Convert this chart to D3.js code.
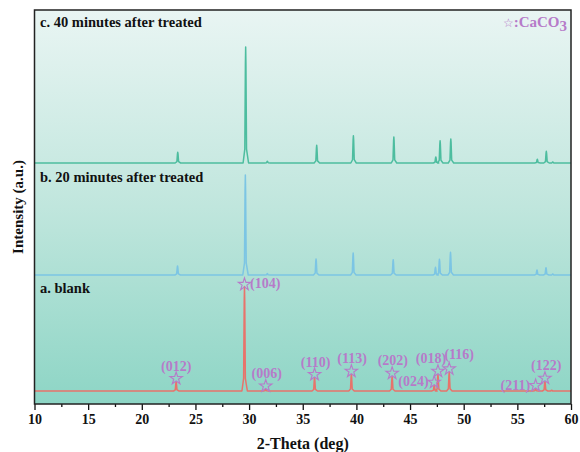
<!DOCTYPE html>
<html>
<head>
<meta charset="utf-8">
<script src="https://cdn.jsdelivr.net/npm/d3@7"></script>
<style>
  body { margin: 0; background: #fff; }
  text { font-family: "Liberation Serif", "Times New Roman", serif; }
</style>
</head>
<body>
<div id="chart"></div>
<script>
// peak lists [2-theta, height above baseline]
const peaksA = [[23.2, 90], [29.57, 1046], [31.55, 15], [36.1, 130], [39.53, 163], [43.33, 143],
  [47.25, 53], [47.6, 163], [48.65, 186], [56.7, 20], [57.57, 93], [58.2, 8]];
const peaksB = [[23.33, 90], [29.65, 1000], [31.7, 14], [36.24, 160], [39.7, 220], [43.43, 153],
  [47.37, 77], [47.74, 157], [48.77, 227], [56.83, 50], [57.67, 73], [58.3, 10]];
const peaksC = [[23.35, 107], [29.68, 1160], [31.7, 17], [36.3, 177], [39.72, 273], [43.49, 260],
  [47.4, 60], [47.8, 223], [48.8, 240], [56.86, 37], [57.7, 117], [58.3, 10]];
const offsets = [130, 1290, 2410];
const seriesNames = ['a. blank', 'b. 20 minutes after treated', 'c. 40 minutes after treated'];
const seriesColors = ['#e8736b', '#7cc5e4', '#4dbd9f'];

// CaCO3 reflections marked on the blank pattern
const hklLabels = ['(012)', '(104)', '(006)', '(110)', '(113)', '(202)', '(024)', '(018)', '(116)', '(211)', '(122)'];
const hklPeak = [0, 1, 2, 3, 4, 5, 6, 7, 8, 9, 10];

const xTicks = [10, 15, 20, 25, 30, 35, 40, 45, 50, 55, 60];

const width = 580, height = 452;
const margin = { top: 10, right: 9, bottom: 48, left: 34.5 };

const svg = d3.select('#chart').append('svg')
  .attr('width', width)
  .attr('height', height);

const x = d3.scaleLinear().domain([10, 60]).range([margin.left, width - margin.right]);
const y = d3.scaleLinear().domain([0, 3940]).range([height - margin.bottom, margin.top]);

// background gradient
const grad = svg.append('defs').append('linearGradient')
  .attr('id', 'bg').attr('x1', 0).attr('y1', 0).attr('x2', 0).attr('y2', 1);
grad.append('stop').attr('offset', '0%').attr('stop-color', '#e9f5f3');
grad.append('stop').attr('offset', '50%').attr('stop-color', '#c0e6dd');
grad.append('stop').attr('offset', '100%').attr('stop-color', '#8dd5c5');

svg.append('rect')
  .attr('x', margin.left).attr('y', margin.top)
  .attr('width', x(60) - x(10)).attr('height', y(0) - y(3940))
  .style('fill', 'url(#bg)');

// build a profile from the peak list
function profile(peaks) {
  const pts = [[10, 0]];
  peaks.forEach(([p, h]) => {
    pts.push([p - 0.24, 0], [p - 0.08, h * 0.12], [p - 0.025, h * 0.85], [p, h],
      [p + 0.025, h * 0.85], [p + 0.08, h * 0.12], [p + 0.27, 0]);
  });
  pts.push([60, 0]);
  return pts;
}

const line = d3.line().x(d => x(d[0])).y(d => y(d[1]));
[peaksA, peaksB, peaksC].forEach((peaks, i) => {
  svg.append('path')
    .datum(profile(peaks).map(d => [d[0], d[1] + offsets[i]]))
    .attr('d', line)
    .style('fill', 'none')
    .style('stroke', seriesColors[i])
    .style('stroke-width', 1.5)
    .style('stroke-linejoin', 'round');
});

// series labels
const labelY = [293, 182, 27];
seriesNames.forEach((name, i) => {
  svg.append('text')
    .attr('x', 40).attr('y', labelY[i])
    .style('font-size', '14.5px').style('font-weight', 'bold')
    .style('fill', '#111')
    .text(name);
});

// stars and hkl labels
const purple = '#b67bc9';
const star = d3.symbol().type(d3.symbolStar).size(48);
// [dx, dy, anchor] of each label relative to its star
const place = [[0, -7, 'middle'], [5.5, 5, 'start'], [1, -7, 'middle'], [1, -7, 'middle'], [0.7, -7, 'middle'],
  [0.7, -7, 'middle'], [-5.5, 5, 'end'], [-7, -7, 'middle'], [10, -8.5, 'middle'], [-5.5, 5, 'end'], [1.3, -7, 'middle']];
hklLabels.forEach((lab, i) => {
  const pk = peaksA[hklPeak[i]];
  const sx = x(pk[0]);
  const sy = y(pk[1] + offsets[0]) - (i === 1 ? 3 : 4.5);
  svg.append('path')
    .attr('d', star)
    .attr('transform', `translate(${sx},${sy + 1})`)
    .style('fill', 'none').style('stroke', purple).style('stroke-width', 1.1);
  svg.append('text')
    .attr('x', sx + place[i][0]).attr('y', sy + place[i][1])
    .style('text-anchor', place[i][2])
    .style('font-size', '14px').style('font-weight', 'bold')
    .style('fill', purple)
    .text(lab);
});

// legend
const leg = svg.append('text')
  .attr('x', 567).attr('y', 27)
  .style('text-anchor', 'end')
  .style('font-size', '15px').style('font-weight', 'bold')
  .style('fill', purple);
leg.append('tspan').style('font-size', '12px').attr('font-family', 'DejaVu Sans').text('\u2606');
leg.append('tspan').text(':CaCO');
leg.append('tspan').attr('dy', 4).style('font-size', '15px').text('3');

// x axis
const xAxis = svg.append('g')
  .attr('transform', `translate(0,${y(0)})`)
  .call(d3.axisBottom(x).tickValues(xTicks).tickSize(6).tickPadding(4).tickFormat(d3.format('d')));
xAxis.select('.domain').remove();
xAxis.selectAll('line').style('stroke', '#111').style('stroke-width', 1.3);
xAxis.selectAll('text')
  .style('font-family', '"Liberation Serif", serif')
  .style('font-size', '14px').style('font-weight', 'bold').style('fill', '#111');

const minor = svg.append('g')
  .attr('transform', `translate(0,${y(0)})`)
  .call(d3.axisBottom(x).tickValues(d3.range(12.5, 60, 5)).tickSize(3).tickFormat(''));
minor.select('.domain').remove();
minor.selectAll('line').style('stroke', '#111').style('stroke-width', 1.3);

// frame
svg.append('rect')
  .attr('x', margin.left).attr('y', margin.top)
  .attr('width', x(60) - x(10)).attr('height', y(0) - y(3940))
  .style('fill', 'none').style('stroke', '#222').style('stroke-width', 1.5);

// axis titles
svg.append('text')
  .attr('x', (x(10) + x(60)) / 2).attr('y', 449)
  .style('text-anchor', 'middle')
  .style('font-size', '16px').style('font-weight', 'bold').style('fill', '#111')
  .text('2-Theta (deg)');

svg.append('text')
  .attr('transform', 'rotate(-90)')
  .attr('x', -207).attr('y', 23)
  .style('text-anchor', 'middle')
  .style('font-size', '15px').style('font-weight', 'bold').style('fill', '#111')
  .text('Intensity (a.u.)');
</script>
</body>
</html>
